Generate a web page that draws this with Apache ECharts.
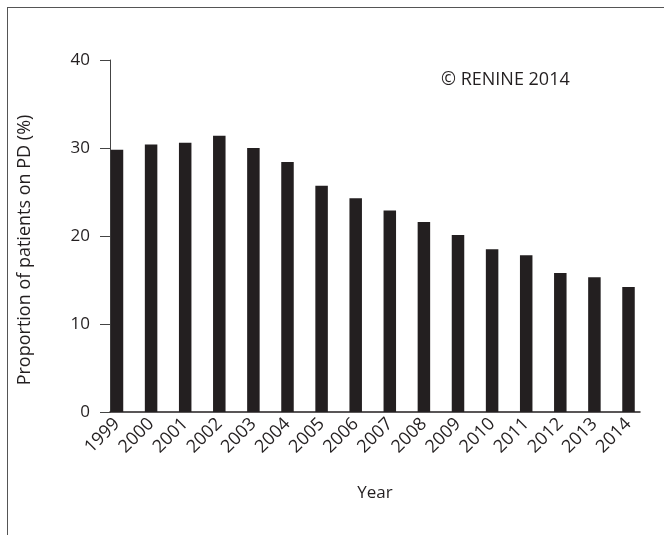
<!DOCTYPE html>
<html><head><meta charset="utf-8">
<script src="https://cdn.jsdelivr.net/npm/echarts@6/dist/echarts.min.js"></script>
<style>
html,body{margin:0;padding:0;background:#fff;}
#wrap{position:relative;width:664px;height:535px;}
#frame{position:absolute;left:7px;top:7px;right:0;bottom:0;border-left:1.5px solid #555;border-top:1.5px solid #555;pointer-events:none;}
#chart{position:absolute;left:0;top:0;width:664px;height:535px;}
</style></head>
<body>
<div id="wrap"><div id="chart"></div><div id="frame"></div></div>
<script>
const years = ['1999','2000','2001','2002','2003','2004','2005','2006','2007','2008','2009','2010','2011','2012','2013','2014'];
const pdShare = [29.8, 30.4, 30.6, 31.4, 30.0, 28.4, 25.7, 24.3, 22.9, 21.6, 20.1, 18.5, 17.8, 15.8, 15.3, 14.2];
const yTicks = [0, 10, 20, 30, 40];

const FONT = 'Open Sans';
const INK = '#231f20';
const chart = echarts.init(document.getElementById('chart'), null, {renderer: 'canvas'});
chart.setOption({
  animation: false,
  textStyle: {fontFamily: FONT},
  grid: {left: 110, right: 24, top: 60, bottom: 123},
  xAxis: {
    type: 'value',
    min: 1998.795, max: 2014.337,
    name: 'Year', nameLocation: 'middle', nameGap: 73,
    nameTextStyle: {fontFamily: FONT, fontSize: 17, color: INK},
    axisLine: {show: true, lineStyle: {color: INK, width: 1.5}},
    axisTick: {show: false},
    splitLine: {show: false},
    axisLabel: {
      customValues: years.map(Number),
      formatter: v => String(v),
      rotate: 45, margin: 9,
      fontFamily: FONT, fontSize: 18, color: INK
    }
  },
  yAxis: {
    type: 'value', min: 0, max: 40, interval: 10,
    name: 'Proportion of patients on PD (%)', nameLocation: 'middle', nameGap: 76,
    nameTextStyle: {fontFamily: FONT, fontSize: 18, color: INK, padding: [0, 28, 0, 0]},
    axisLine: {show: true, lineStyle: {color: '#444', width: 1}},
    axisTick: {show: true, length: 10, lineStyle: {color: '#444', width: 1}},
    splitLine: {show: false},
    axisLabel: {margin: 20, fontFamily: FONT, fontSize: 17, color: INK,
      formatter: v => yTicks.includes(v) ? String(v) : ''}
  },
  graphic: [{
    type: 'text', left: 441, top: 71,
    style: {text: '© RENINE 2014', fontFamily: FONT, fontSize: 18, fill: INK}
  }],
  series: [{
    type: 'bar',
    barWidth: 12.5,
    itemStyle: {color: INK},
    data: years.map((y, i) => [Number(y), pdShare[i]])
  }]
});
</script>
</body></html>
